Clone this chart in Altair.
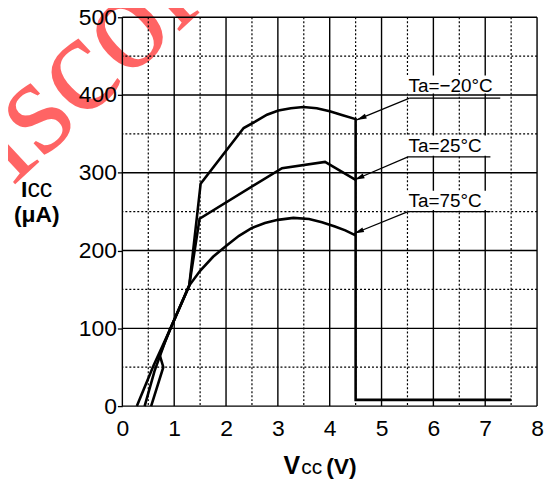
import altair as alt
import pandas as pd
import numpy as np

# ---------------- data ----------------
vcc_m20 = [0.555, 0.79, 0.72, 0.93, 1.29, 1.51, 2.34, 2.57, 2.79, 3.01, 3.25, 3.49, 3.75, 4.0, 4.25, 4.5, 4.5, 7.5]
icc_m20 = [0, 50, 66, 100, 155, 286, 357.6, 366, 374.7, 380, 383, 384.6, 383, 379, 374, 369, 8, 8]

vcc_25 = [0.43, 0.62, 0.82, 0.93, 1.29, 1.49, 3.08, 3.91, 4.5]
icc_25 = [0, 45, 82, 100, 155, 241, 306, 314, 291]

vcc_75 = [0.28, 0.6, 0.93, 1.29, 1.5, 1.75, 2.0, 2.25, 2.5, 2.75, 3.0, 3.3, 3.6, 3.85, 4.1, 4.3, 4.5]
icc_75 = [0, 52, 100, 155, 174, 192, 206, 219, 229, 235.5, 239.5, 242, 240.5, 236.5, 231, 226, 219.5]

x_major = [0, 1, 2, 3, 4, 5, 6, 7, 8]
x_minor = [0.5, 1.5, 2.5, 3.5, 4.5, 5.5, 6.5, 7.5]
y_major = [0, 100, 200, 300, 400, 500]
y_minor = [50, 150, 250, 350, 450]

labels = ["Ta=\u221220\u00b0C", "Ta=25\u00b0C", "Ta=75\u00b0C"]
label_x = [5.52, 5.52, 5.52]
label_y = [404, 326.5, 256]
# underline (start x, end x, y) and arrow tip (x, y)
ul_x1 = [5.54, 5.51, 5.51]
ul_x2 = [7.29, 7.10, 7.10]
ul_y = [396, 320.5, 250]
tip_x = [4.52, 4.48, 4.47]
tip_y = [368, 291, 222]
# white boxes behind labels
box_x1 = [5.47, 5.47, 5.47]
box_x2 = [7.33, 7.05, 7.05]
box_y1 = [402, 322, 252]
box_y2 = [425, 348, 277]

W, H = 417, 391
FONT = "Liberation Sans"

rows = []
for name, xs, ys in [("-20", vcc_m20, icc_m20), ("25", vcc_25, icc_25), ("75", vcc_75, icc_75)]:
    for i, (a, b) in enumerate(zip(xs, ys)):
        rows.append({"series": name, "v": a, "i": b, "k": i})
curves_df = pd.DataFrame(rows)

xs_ = alt.Scale(domain=[0, 8], nice=False, zero=False)
ys_ = alt.Scale(domain=[0, 500], nice=False, zero=False)
xaxis = alt.Axis(values=x_major, title=None, grid=False, domain=False, ticks=False,
                 labelFontSize=23, labelFont=FONT, labelColor="black", labelPadding=12,
                 labelFlush=False, zindex=1)
yaxis = alt.Axis(values=y_major, title=None, grid=False, domain=False, ticks=True,
                 tickSize=5, tickColor="black", tickWidth=1.3,
                 labelFontSize=23, labelFont=FONT, labelColor="black", labelPadding=1,
                 labelFlush=False, zindex=1)


def X(f):
    return alt.X(f, type="quantitative", scale=xs_, axis=xaxis)


def Y(f):
    return alt.Y(f, type="quantitative", scale=ys_, axis=yaxis)


# watermark
watermark = alt.Chart(pd.DataFrame({"t": ["Discontinued"]})).mark_text(
    align="left", baseline="alphabetic", angle=317, font="Liberation Serif",
    fontSize=140, color="#ff6464"
).encode(x=alt.value(-184), y=alt.value(239), text="t:N")

# grids
vminor = alt.Chart(pd.DataFrame({"v": x_minor})).mark_rule(
    color="black", strokeWidth=1.2, strokeDash=[2, 2]).encode(x=X("v"))
hminor = alt.Chart(pd.DataFrame({"i": y_minor})).mark_rule(
    color="black", strokeWidth=1.2, strokeDash=[2, 2]).encode(y=Y("i"))
vmajor = alt.Chart(pd.DataFrame({"v": x_major})).mark_rule(
    color="black", strokeWidth=1.4).encode(x=X("v"))
hmajor = alt.Chart(pd.DataFrame({"i": y_major})).mark_rule(
    color="black", strokeWidth=1.4).encode(y=Y("i"))

ann = pd.DataFrame({
    "label": labels, "lx": label_x, "ly": label_y,
    "ux1": ul_x1, "ux2": ul_x2, "uy": ul_y, "tx": tip_x, "ty": tip_y,
    "bx1": box_x1, "bx2": box_x2, "by1": box_y1, "by2": box_y2,
})
# arrow head angle computed in pixel space
ann["ang"] = np.degrees(np.arctan2(
    (ann["uy"] - ann["ty"]) * H / 500.0,
    (ann["tx"] - ann["ux1"]) * W / 8.0)) % 360

boxes = alt.Chart(ann).mark_rect(fill="white", stroke=None).encode(
    x=X("bx1"), x2="bx2", y=Y("by1"), y2="by2")

curves = alt.Chart(curves_df).mark_line(color="black", strokeWidth=2.6, strokeJoin="miter").encode(
    x=X("v"), y=Y("i"), detail="series:N", order="k:Q")

underline = alt.Chart(ann).mark_rule(color="black", strokeWidth=1.2).encode(
    x=X("ux1"), x2="ux2", y=Y("uy"))
leader = alt.Chart(ann).mark_rule(color="black", strokeWidth=1.2).encode(
    x=X("ux1"), x2="tx", y=Y("uy"), y2="ty")
heads = alt.Chart(ann).mark_point(
    shape="M0,0L-2,-0.5L-2,0.5Z", filled=True, color="black", opacity=1, size=100
).encode(x=X("tx"), y=Y("ty"), angle=alt.Angle("ang:Q", scale=None))

texts = alt.Chart(ann).mark_text(
    align="left", baseline="alphabetic", font=FONT, fontSize=19, color="black"
).encode(x=X("lx"), y=Y("ly"), text="label:N")


def piece(txt, px, py, size, weight="normal"):
    return alt.Chart(pd.DataFrame({"t": [txt]})).mark_text(
        align="left", baseline="alphabetic", font=FONT, fontSize=size,
        fontWeight=weight, color="black"
    ).encode(x=alt.value(px), y=alt.value(py), text="t:N")


titles = [
    piece("I", -102, 181, 23, "bold"),
    piece("cc", -95.5, 181, 25),
    piece("(\u03bcA)", -109, 206, 23, "bold"),
    piece("V", 162, 459, 25, "bold"),
    piece("cc", 180, 459, 21),
    piece("(V)", 205, 459, 23, "bold"),
]

chart = alt.layer(
    watermark, vminor, hminor, vmajor, hmajor, boxes, curves,
    underline, leader, heads, texts, *titles
).properties(
    width=W, height=H,
    autosize=alt.AutoSizeParams(type="none"),
    padding={"left": 115, "top": 8, "right": 10, "bottom": 72},
).configure_view(stroke=None)

chart.save("out.html", embed_options={"renderer": "svg", "actions": False})
